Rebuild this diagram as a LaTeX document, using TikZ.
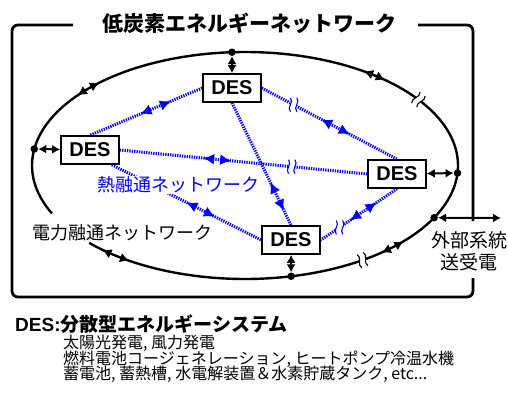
\documentclass[tikz,border=0pt]{standalone}
\usepackage{fontspec}
\setmainfont{Noto Sans CJK JP}
\newfontfamily\latinf{Liberation Sans}
\usetikzlibrary{arrows.meta,decorations.markings}
\tikzset{
  htip/.tip={Latex[length=11pt,width=11pt]},
  etip/.tip={Latex[length=9pt,width=9.5pt]},
  btip/.tip={Latex[length=8pt,width=9pt]},
  desbox/.style={draw, line width=1.6pt, fill=white, minimum width=58pt, minimum height=28pt, inner sep=0pt, font=\latinf\bfseries\fontsize{20}{20}\selectfont},
  edot/.style={circle, fill=black, inner sep=0pt, minimum size=7.5pt},
  heat/.style={blue, line width=3pt, dash pattern=on 1.3pt off 1.1pt},
  eline/.style={line width=2.4pt},
  framel/.style={line width=2.8pt, rounded corners=6pt},
  conn/.style={line width=2pt, arrows={btip-btip}},
  etipl/.style={line width=1pt, arrows={-etip}},
  heatm/.style 2 args={postaction={decorate}, decoration={markings,
      mark=at position #1 with {\arrowreversed{htip}},
      mark=at position #2 with {\arrow{htip}}}},
  heatmq/.style n args={3}{postaction={decorate}, decoration={markings,
      mark=at position #1 with {\arrowreversed{htip}},
      mark=at position #2 with {\arrow{htip}},
      mark=at position #3 with {\pic{brk};}}},
  brk/.pic={
    \fill[white] (-3.2,-3.2) rectangle (3.2,3.2);
    \draw[solid, line width=1.1pt] (-3.2,-7) .. controls (0.8,-2.5) and (-7.2,2.5) .. (-3.2,7);
    \draw[solid, line width=1.1pt] (3.2,-7) .. controls (7.2,-2.5) and (-0.8,2.5) .. (3.2,7);
  },
}
\begin{document}
\begin{tikzpicture}[x=1pt,y=-1pt]
\useasboundingbox (0,0) rectangle (508,398);
\fill[white] (0,0) rectangle (508,398);

% frame
\draw[framel] (73,25) -- (12,25) -- (12,297) -- (473,297) -- (473,278);
\draw[framel] (473,221) -- (473,25) -- (418,25);
\node[font=\bfseries\fontsize{21}{21}\selectfont, inner sep=0pt] (title) at (249,23) {低炭素エネルギーネットワーク};

% ellipse (power network)
\draw[eline] plot[domain=155:497, samples=220, smooth] ({245+213*cos(\x)},{165.5+113.5*sin(\x)});

\begin{scope}[shift={(245,165.5)}]
  \node[edot] (dT) at (266.5:213 and 113.5) {};
  \node[edot] (dB) at (77.5:213 and 113.5) {};
  \node[edot] (dL) at (188.4:213 and 113.5) {};
  \node[edot] (dR) at (3.8:213 and 113.5) {};
  \node[edot] (dX) at (27.4:213 and 113.5) {};
  \coordinate (eb1) at (324.5:213 and 113.5);
  \coordinate (eb2) at (56.5:213 and 113.5);
  % arrow pairs on the ellipse
  \draw[etipl] (219.3:213 and 113.5) -- (218.3:213 and 113.5);
  \draw[etipl] (225.7:213 and 113.5) -- (226.7:213 and 113.5);
  \draw[etipl] (305:213 and 113.5) -- (304:213 and 113.5);
  \draw[etipl] (310:213 and 113.5) -- (311:213 and 113.5);
  \draw[etipl] (124:213 and 113.5) -- (123:213 and 113.5);
  \draw[etipl] (131:213 and 113.5) -- (132:213 and 113.5);
  \draw[etipl] (43:213 and 113.5) -- (42:213 and 113.5);
  \draw[etipl] (49:213 and 113.5) -- (50:213 and 113.5);
\end{scope}
\pic[rotate=-36.8] at (eb1) {brk};
\pic[rotate=19.4] at (eb2) {brk};

% DES nodes
\node[desbox] (T) at (232,88) {DES};
\node[desbox] (L) at (90,150) {DES};
\node[desbox] (R) at (397,174) {DES};
\node[desbox] (B) at (291,240) {DES};

% heat network
\draw[heat, heatm={0.28}{0.55}] (T.west) -- (L.north);
\draw[heat, heatmq={0.44}{0.65}{0.235}] (T.east) -- (R.north);
\draw[heat, heatm={0.65}{0.88}] (T.south) -- (B.north);
\draw[heat, heatmq={0.337}{0.45}{0.695}] (L.east) -- (R.west);
\draw[heat, heatm={0.50}{0.69}] ([xshift=-8pt]L.south east) -- (B.west);
\draw[heat, heatmq={0.27}{0.615}{0.755}] (R.south) -- (B.east);

% redraw boxes on top of heat lines
\node[desbox] at (T) {DES};
\node[desbox] at (L) {DES};
\node[desbox] at (R) {DES};
\node[desbox] at (B) {DES};

% connectors to the power network
\draw[conn] (dT) -- (T);
\draw[conn] (B) -- (dB);
\draw[conn] (dL) -- (L);
\draw[conn] (R) -- (dR);
\coordinate (ext) at (501,218);
\draw[conn] (dX) -- (ext);

% labels
\node[font=\fontsize{18}{18}\selectfont, text=blue, fill=white, inner sep=1pt] (hl) at (178,185) {熱融通ネットワーク};
\node[font=\fontsize{18}{18}\selectfont, inner sep=1pt] (pl) at (122,233) {電力融通ネットワーク};
\node[font=\fontsize{19}{22}\selectfont, align=center, inner sep=0pt] (xl) at (469,251) {外部系統\\送受電};

% legend
\node[anchor=base west, inner sep=0pt, font=\fontsize{19}{19}\selectfont] (desdef) at (15,331) {{\latinf\bfseries DES:}\bfseries 分散型エネルギーシステム};
\node[anchor=base west, inner sep=0pt, font=\fontsize{16}{16}\selectfont] (l1) at (63,348) {太陽光発電, 風力発電};
\node[anchor=base west, inner sep=0pt, font=\fontsize{16}{16}\selectfont] (l2) at (63,364) {燃料電池コージェネレーション, ヒートポンプ冷温水機};
\node[anchor=base west, inner sep=0pt, font=\fontsize{16}{16}\selectfont] (l3) at (63,379.5) {蓄電池, 蓄熱槽, 水電解装置＆水素貯蔵タンク, etc...};
\end{tikzpicture}
\end{document}
